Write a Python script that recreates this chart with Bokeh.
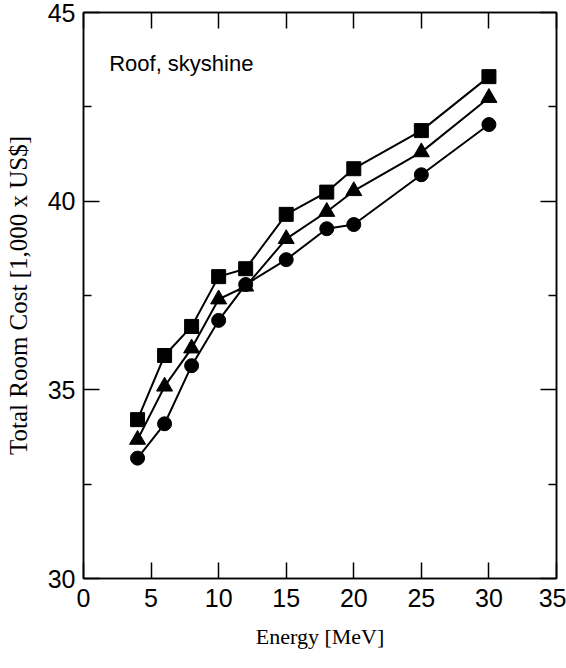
from bokeh.plotting import figure
from bokeh.models import LinearAxis, FixedTicker, Label, Range1d
from bokeh.embed import file_html
from bokeh.resources import INLINE

# Beam energy [MeV]
energy = [4, 6, 8, 10, 12, 15, 18, 20, 25, 30]

# Total room cost [1,000 x US$] for the three shielding configurations
cost_square = [34.21, 35.91, 36.68, 38.00, 38.21, 39.65, 40.24, 40.86, 41.87, 43.30]
cost_triangle = [33.68, 35.09, 36.10, 37.40, 37.74, 39.00, 39.72, 40.27, 41.30, 42.74]
cost_circle = [33.19, 34.10, 35.64, 36.84, 37.79, 38.45, 39.27, 39.38, 40.70, 42.03]

x_ticks = [0, 5, 10, 15, 20, 25, 30, 35]
y_ticks = [30, 35, 40, 45]
y_minor = [32.5, 37.5, 42.5]

SANS = "Liberation Sans"
SERIF = "Liberation Serif"

p = figure(
    frame_width=473, frame_height=566,
    x_range=Range1d(0, 35), y_range=Range1d(30, 45),
    output_backend="svg", toolbar_location=None,
    min_border_left=83, min_border_right=10,
    min_border_top=12, min_border_bottom=90,
)
p.xgrid.visible = False
p.ygrid.visible = False
p.outline_line_color = "black"
p.outline_line_width = 1.5
p.background_fill_color = "white"
p.border_fill_color = "white"

xticker = FixedTicker(ticks=x_ticks, minor_ticks=[])
yticker = FixedTicker(ticks=y_ticks, minor_ticks=y_minor)


def style_axis(ax, ticker, ticks, show_labels):
    ax.ticker = ticker
    ax.axis_line_color = "black"
    ax.axis_line_width = 1.5
    ax.major_tick_in = 16
    ax.major_tick_out = 0
    ax.minor_tick_in = 8
    ax.minor_tick_out = 0
    ax.major_tick_line_color = "black"
    ax.major_tick_line_width = 1.5
    ax.minor_tick_line_color = "black"
    ax.minor_tick_line_width = 1.5
    if show_labels:
        ax.major_label_text_font = SANS
        ax.major_label_text_font_size = "25px"
        ax.major_label_text_color = "black"
    else:
        # mirrored frame axis: ticks only, blank labels
        ax.major_label_overrides = {t: "" for t in ticks}
        ax.major_label_text_font_size = "1px"
        ax.major_label_standoff = 0


xa = p.xaxis[0]
style_axis(xa, xticker, x_ticks, True)
xa.major_label_standoff = 10
xa.axis_label = "Energy [MeV]"
xa.axis_label_text_font = SERIF
xa.axis_label_text_font_size = "22px"
xa.axis_label_text_font_style = "normal"
xa.axis_label_text_color = "black"
xa.axis_label_standoff = 14

ya = p.yaxis[0]
style_axis(ya, yticker, y_ticks, True)
ya.major_label_standoff = 8
ya.axis_label = "Total Room Cost [1,000 x US$]"
ya.axis_label_text_font = SERIF
ya.axis_label_text_font_size = "25px"
ya.axis_label_text_font_style = "normal"
ya.axis_label_text_color = "black"
ya.axis_label_standoff = 13

top = LinearAxis()
style_axis(top, xticker, x_ticks, False)
p.add_layout(top, "above")

right = LinearAxis()
style_axis(right, yticker, y_ticks, False)
p.add_layout(right, "right")

# Three series: line plus filled markers
p.line(energy, cost_square, line_color="black", line_width=2)
p.scatter(energy, cost_square, marker="square", size=14,
          fill_color="black", line_color="black")

p.line(energy, cost_triangle, line_color="black", line_width=2)
p.scatter(energy, cost_triangle, marker="triangle", size=16,
          fill_color="black", line_color="black")

p.line(energy, cost_circle, line_color="black", line_width=2)
p.scatter(energy, cost_circle, marker="circle", size=14,
          fill_color="black", line_color="black")

p.add_layout(Label(x=1.9, y=43.65, text="Roof, skyshine",
                   text_font=SANS, text_font_size="22px",
                   text_color="black", text_baseline="alphabetic"))

open("out.html", "w").write(file_html(p, INLINE))
